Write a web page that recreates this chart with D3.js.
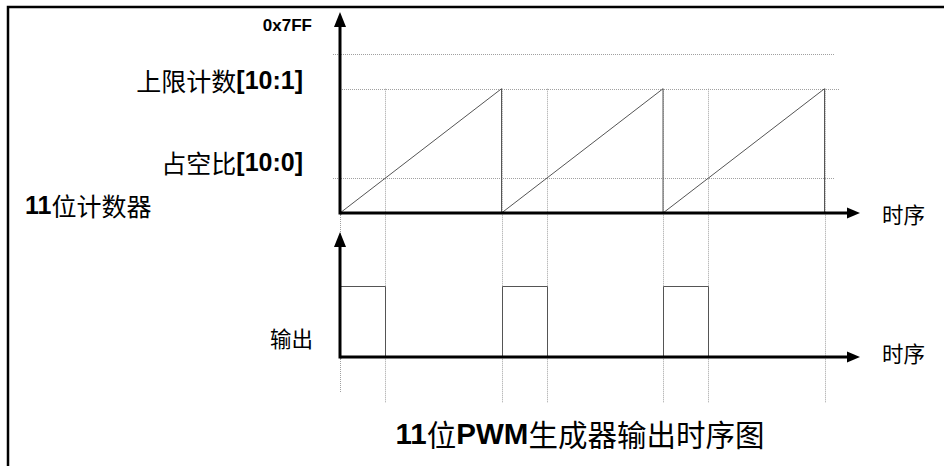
<!DOCTYPE html>
<html>
<head>
<meta charset="utf-8">
<script src="https://cdn.jsdelivr.net/npm/d3@7"></script>
<style>
  body { margin: 0; background: #fff; }
  svg { display: block; }
</style>
</head>
<body>
<div id="chart"></div>
<script>
var width = 944, height = 466;

// counter values (11 bit)
var counterMax = 0x7FF;          // 2047
var upperLimit = 1600;           // 上限计数[10:1]
var dutyValue = 450;             // 占空比[10:0]
var periodStarts = [0, 1, 2];    // counter periods shown
var periodCount = 3;
var outputLevels = [0, 1];

var yLabels = ["0x7FF", "上限计数[10:1]", "占空比[10:0]"];
var axisName = "时序";
var counterName = "11位计数器";
var outputName = "输出";
var title = "11位PWM生成器输出时序图";

var font = "'Noto Sans CJK SC', 'Liberation Sans', sans-serif";
var latin = "'Liberation Sans', Arial, sans-serif";

var svg = d3.select("#chart").append("svg")
  .attr("width", width)
  .attr("height", height);

// time in counter periods
var x = d3.scaleLinear().domain([0, periodCount]).range([340, 824.5]);
var xEnd = 860;
var yCnt = d3.scaleLinear().domain([0, counterMax]).range([213, 54]);
var yOut = d3.scaleLinear().domain(outputLevels).range([357, 286]);
var dutyFrac = dutyValue / upperLimit;

// frame
svg.append("path")
  .attr("d", "M8,466 V7 H944")
  .attr("fill", "none")
  .attr("stroke", "#000")
  .attr("stroke-width", 2.5);

var grid = svg.append("g")
  .attr("stroke", "#a0a0a0")
  .attr("stroke-width", 1)
  .attr("stroke-dasharray", "1,1")
  .attr("fill", "none");

// horizontal dotted levels
grid.append("line").attr("x1", 333).attr("x2", 834)
  .attr("y1", Math.round(yCnt(counterMax)) + .5).attr("y2", Math.round(yCnt(counterMax)) + .5);
grid.append("line").attr("x1", 340).attr("x2", 840)
  .attr("y1", Math.round(yCnt(upperLimit)) + .5).attr("y2", Math.round(yCnt(upperLimit)) + .5);
grid.append("line").attr("x1", 333).attr("x2", 834)
  .attr("y1", Math.round(yCnt(dutyValue)) + .5).attr("y2", Math.round(yCnt(dutyValue)) + .5);

// vertical dotted markers: period boundaries and duty points
var marks = [];
for (var i = 0; i <= periodCount; i++) marks.push({t: i, end: i === 0 ? 392 : 403});
periodStarts.forEach(function(p) { marks.push({t: p + dutyFrac, end: 403}); });
grid.selectAll("line.v").data(marks).enter().append("line")
  .attr("class", "v")
  .attr("x1", function(d) { return Math.round(x(d.t)) + .5; })
  .attr("x2", function(d) { return Math.round(x(d.t)) + .5; })
  .attr("y1", function(d) { return d.t === 0 ? 213 : yCnt(upperLimit); })
  .attr("y2", function(d) { return d.end; });

// sawtooth counter
var saw = [];
periodStarts.forEach(function(p) {
  saw.push([p, 0]);
  saw.push([p + 1, upperLimit]);
  saw.push([p + 1, 0]);
});
var sawLine = d3.line()
  .x(function(d) { return x(d[0]); })
  .y(function(d) { return yCnt(d[1]); });
svg.append("path")
  .datum(saw)
  .attr("d", sawLine)
  .attr("fill", "none")
  .attr("stroke", "#555")
  .attr("stroke-width", 1);

// PWM output
var pwm = [];
periodStarts.forEach(function(p) {
  pwm.push([p, 0], [p, 1], [p + dutyFrac, 1], [p + dutyFrac, 0]);
});
pwm.push([periodCount, 0]);
var pwmLine = d3.line()
  .x(function(d) { return Math.round(x(d[0])) + .5; })
  .y(function(d) { return Math.round(yOut(d[1])) + .5; });
svg.append("path")
  .datum(pwm)
  .attr("d", pwmLine)
  .attr("fill", "none")
  .attr("stroke", "#555")
  .attr("stroke-width", 1);

// axes with arrows
function axisPair(y0, yTop) {
  var g = svg.append("g");
  g.append("line").attr("x1", x(0)).attr("x2", xEnd - 10)
    .attr("y1", y0).attr("y2", y0)
    .attr("stroke", "#000").attr("stroke-width", 3);
  g.append("line").attr("x1", x(0)).attr("x2", x(0))
    .attr("y1", y0 + 1.5).attr("y2", yTop + 10)
    .attr("stroke", "#000").attr("stroke-width", 3);
  g.append("path")
    .attr("d", "M" + xEnd + "," + y0 + " L" + (xEnd - 13) + "," + (y0 - 5.5) + " L" + (xEnd - 13) + "," + (y0 + 5.5) + "Z")
    .attr("fill", "#000");
  g.append("path")
    .attr("d", "M" + x(0) + "," + yTop + " L" + (x(0) - 6) + "," + (yTop + 15) + " L" + (x(0) + 6) + "," + (yTop + 15) + "Z")
    .attr("fill", "#000");
}
axisPair(yCnt(0), 12);
axisPair(yOut(0), 232);

// mixed text helper: latin runs bold, CJK regular
function label(txt, px, py, anchor, size) {
  var t = svg.append("text")
    .attr("x", px).attr("y", py)
    .attr("text-anchor", anchor)
    .attr("dominant-baseline", "central")
    .attr("font-size", size)
    .attr("fill", "#000");
  var parts = txt.match(/[\x00-\x7F]+|[^\x00-\x7F]+/g);
  parts.forEach(function(s) {
    var ascii = /^[\x00-\x7F]+$/.test(s);
    t.append("tspan")
      .attr("font-family", ascii ? latin : font)
      .attr("font-weight", ascii ? "bold" : "normal")
      .text(s);
  });
  return t;
}

label(yLabels[0], 312, 25, "end", 17);
label(yLabels[1], 303, 80, "end", 25);
label(yLabels[2], 303, 162, "end", 25);
label(counterName, 25, 205, "start", 25);
label(outputName, 313, 337, "end", 21.5);
label(axisName, 882, 213, "start", 21.5);
label(axisName, 882, 352, "start", 21.5);
label(title, 580, 433, "middle", 29.5);
</script>
</body>
</html>
